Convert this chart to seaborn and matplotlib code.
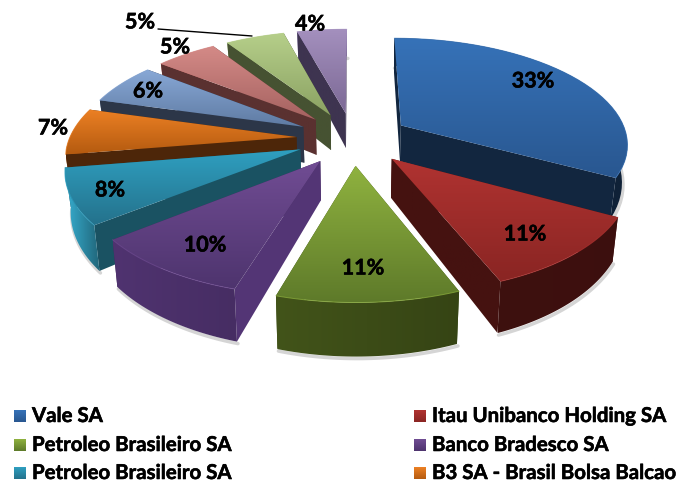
import numpy as np
import matplotlib
matplotlib.use("Agg")
import matplotlib.pyplot as plt
import matplotlib.patheffects as pe
import seaborn as sns
from matplotlib.colors import LinearSegmentedColormap, to_rgb
from matplotlib.patches import Polygon

# Data
shares = [33, 11, 10.6, 9.6, 8.2, 7, 6.2, 5.2, 5, 4.2]
labels = ["33%", "11%", "11%", "10%", "8%", "7%", "6%", "5%", "5%", "4%"]
legend_names = ["Vale SA", "Itau Unibanco Holding SA", "Petroleo Brasileiro SA",
                "Banco Bradesco SA", "Petroleo Brasileiro SA", "B3 SA - Brasil Bolsa Balcao"]
top_light = ["#3672B8", "#B03331", "#8FB23F", "#704C93", "#2F9FC0",
             "#EC8024", "#88A8D6", "#D48A87", "#B6CF8A", "#A490BE"]
top_dark = ["#295790", "#8A2523", "#5E7A2A", "#4E346E", "#24728C",
            "#B55B10", "#5F7BA3", "#A56260", "#8BA263", "#7C6995"]
wall = ["#12263F", "#451210", "#3C4C17", "#40295A", "#1A5262",
        "#4D2609", "#2C3648", "#5A3130", "#465232", "#3E3450"]
label_pos = [(533, 81), (525, 234), (363, 268), (205, 245), (110, 190),
             (53, 128), (148, 91), (175, 47), (140, 22), (310, 24)]

# Projection of the tilted pie onto the picture
cx, cy = 353, 138.5
rx, ry = 227, 105
depth = 37
persp = 0.16
explode = 0.25


def project(u, v, low=False):
    s = 1 / (1 + persp * v)
    x = cx + rx * u * s * (0.98 if low else 1)
    y = cy - ry * v * s + (depth * s ** 1.7 if low else 0)
    return x, y


def gradient(ax, poly, c0, c1, z, horizontal=False):
    cmap = LinearSegmentedColormap.from_list("g", [c0, c1])
    xs, ys = zip(*poly)
    ramp = np.linspace(0, 1, 64)
    ramp = ramp[None, :] if horizontal else ramp[:, None]
    im = ax.imshow(ramp, cmap=cmap, aspect="auto",
                   extent=(min(xs), max(xs), max(ys), min(ys)), zorder=z, origin="upper")
    im.set_clip_path(Polygon(poly, closed=True, transform=ax.transData))


def shade(color, f):
    return tuple(np.clip(np.array(to_rgb(color)) * f, 0, 1))


def rim_light(rad):
    return np.interp(np.degrees(rad), [0, 150, 200, 228, 263, 360],
                     [1, 0.85, 1.12, 1.15, 2.2, 2.2])


sns.set_theme(style="white")
plt.rcParams["font.family"] = ["Lato", "DejaVu Sans"]

fig = plt.figure(figsize=(6.89, 4.83), dpi=100)
ax = fig.add_axes([0, 0, 1, 1])

edges = np.cumsum([0] + shares) / sum(shares) * 2 * np.pi
mids = (edges[:-1] + edges[1:]) / 2
heavy = [pe.withStroke(linewidth=0.4, foreground="black")]

# far slices first
order = sorted(range(len(shares)), key=lambda i: -np.cos(mids[i]))
z = 2
for i in order:
    a0, a1 = edges[i], edges[i + 1]
    au, av = explode * np.sin(mids[i]), explode * np.cos(mids[i])
    th = np.linspace(a0, a1, 40)
    ru, rv = au + np.sin(th), av + np.cos(th)
    upper = [project(a, b) for a, b in zip(ru, rv)]
    lower = [project(a, b, True) for a, b in zip(ru, rv)]

    # soft shadow under the outer wall
    z += 1
    sx, sy = zip(*lower)
    ax.plot(np.array(sx) + 1, np.array(sy) + 2, color="#888888", lw=2.5, alpha=0.35, zorder=z)

    faces = []
    for end, ang in ((0, a0), (-1, a1)):
        f = 1.3 if (np.pi < ang < np.radians(215) and end == 0) else 1.0
        quad = [project(au, av), upper[end], lower[end], project(au, av, True)]
        faces.append(((av + rv[end]) / 2, quad, shade(wall[i], f), shade(wall[i], f)))
    # rim: left end of the strip is the larger angle
    rim = upper + lower[::-1]
    left, right = (a1, a0) if np.cos((a0 + a1) / 2) < 0 or a1 > np.pi else (a0, a1)
    faces.append((rv.mean(), rim, shade(wall[i], rim_light(left)), shade(wall[i], rim_light(right))))

    for _, poly, c0, c1 in sorted(faces, key=lambda t: -t[0]):
        z += 1
        gradient(ax, poly, c0, c1, z, horizontal=True)

    z += 1
    top = [project(au, av)] + upper
    gradient(ax, top, top_light[i], top_dark[i], z)
    z += 1
    tx, ty = zip(*upper)
    ax.plot(tx, ty, color=top_light[i], lw=0.7, alpha=0.7, zorder=z)

# percent labels
for lab, (x, y) in zip(labels, label_pos):
    ax.text(x, y, lab, ha="center", va="center", fontsize=15.5, fontweight="bold",
            color="black", zorder=z + 1, path_effects=heavy)

# leader line of the outlying 5% label
ax.plot([158, 252], [29, 36], color="black", lw=1, zorder=z + 1)

# legend
leg_x = [14, 414]
leg_y = [416, 445, 473]
for j, name in enumerate(legend_names):
    x0, y0 = leg_x[j % 2], leg_y[j // 2]
    box = [(x0, y0 - 6), (x0 + 12, y0 - 6), (x0 + 12, y0 + 6), (x0, y0 + 6)]
    gradient(ax, box, top_light[j], top_dark[j], z + 1)
    ax.text(x0 + 18, y0, name, ha="left", va="center", fontsize=14.7, fontweight="bold",
            color="black", zorder=z + 1, path_effects=heavy)

ax.set_xlim(0, 689)
ax.set_ylim(483, 0)
ax.axis("off")
fig.savefig("out.png", dpi=100, facecolor="white")
